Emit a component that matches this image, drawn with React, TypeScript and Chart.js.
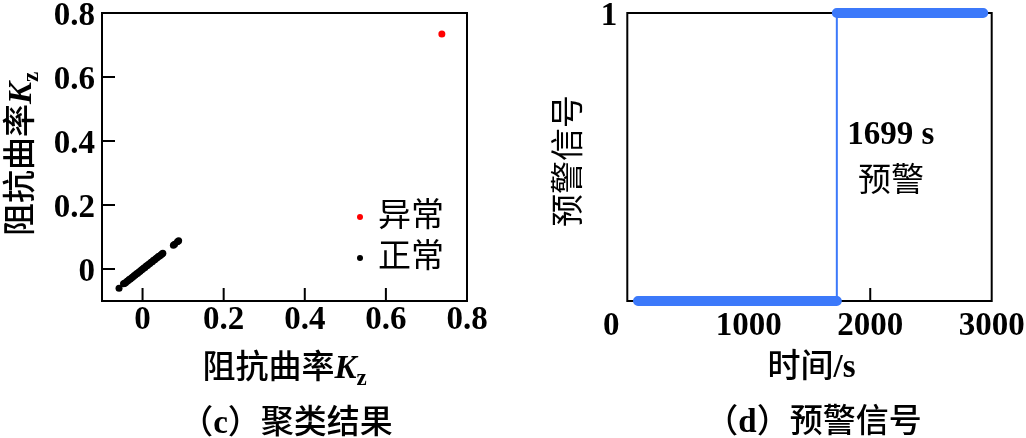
import React, { useEffect, useRef } from "react";
import { Chart, registerables } from "chart.js";

Chart.register(...registerables);

// ---------- data: (c) clustering result ----------
const normalKx = [-0.058, -0.047, -0.045, -0.042, -0.039, -0.036, -0.033, -0.030, -0.027, -0.024, -0.021, -0.018, -0.015, -0.012, -0.009, -0.006, -0.003, 0.000, 0.003, 0.006, 0.009, 0.012, 0.015, 0.018, 0.021, 0.024, 0.027, 0.030, 0.033, 0.036, 0.039, 0.042, 0.045, 0.048, 0.050, 0.076, 0.079, 0.086, 0.089];
const normalKy = [-0.060, -0.046, -0.045, -0.043, -0.039, -0.037, -0.033, -0.031, -0.027, -0.025, -0.021, -0.019, -0.015, -0.013, -0.009, -0.007, -0.003, -0.001, 0.003, 0.005, 0.009, 0.011, 0.015, 0.017, 0.021, 0.023, 0.027, 0.029, 0.033, 0.035, 0.039, 0.041, 0.044, 0.047, 0.049, 0.074, 0.077, 0.085, 0.088];
const abnormalKx = [0.738];
const abnormalKy = [0.734];
const clusterLabels = ["正常", "异常"];
const kzTicks = [0, 0.2, 0.4, 0.6, 0.8];
const kzMin = -0.1;
const kzMax = 0.8;

// ---------- data: (d) warning signal ----------
const warnTime = [88, 1725, 1725, 2930];
const warnSignal = [0, 0, 1, 1];
const timeTicks = [0, 1000, 2000, 3000];
const timeTickMarks = [2000];
const signalTicks = [0, 1];
const timeMin = 0;
const timeMax = 3000;
const noteLines = ["1699 s", "预警"];
const noteTime = 2170;
const noteSignal = [0.576, 0.427];

const SERIF = '"Liberation Serif", "Times New Roman", serif';
const CJK = '"Noto Sans CJK SC", sans-serif';
const BLUE = "rgb(60,121,250)";
const TICK_FONT = { family: SERIF, size: 33, weight: "bold" as const };
const CJK_SIZE = 33;

type Run = { text: string; font: string; dy?: number };

function drawRuns(ctx: CanvasRenderingContext2D, runs: Run[], cx: number, cy: number, angle = 0) {
  ctx.save();
  ctx.translate(cx, cy);
  ctx.rotate(angle);
  ctx.textBaseline = "alphabetic";
  ctx.textAlign = "left";
  ctx.fillStyle = "#000";
  let total = 0;
  const widths = runs.map((r) => {
    ctx.font = r.font;
    const w = ctx.measureText(r.text).width;
    total += w;
    return w;
  });
  let x = -total / 2;
  runs.forEach((r, i) => {
    ctx.font = r.font;
    ctx.fillText(r.text, x, 11 + (r.dy || 0));
    x += widths[i];
  });
  ctx.restore();
}

const framePlugin = {
  id: "frame",
  beforeDatasetsDraw(chart: any, _args: any, opts: any) {
    const { ctx, chartArea: a, scales } = chart;
    ctx.save();
    ctx.strokeStyle = "#000";
    ctx.lineWidth = 2;
    ctx.strokeRect(a.left, a.top, a.right - a.left, a.bottom - a.top);
    ctx.beginPath();
    (opts.xMarks || []).forEach((v: number) => {
      const p = scales.x.getPixelForValue(v);
      ctx.moveTo(p, a.bottom);
      ctx.lineTo(p, a.bottom - 13);
    });
    (opts.yMarks || []).forEach((v: number) => {
      const p = scales.y.getPixelForValue(v);
      ctx.moveTo(a.left, p);
      ctx.lineTo(a.left + 13, p);
    });
    ctx.stroke();
    ctx.restore();
  },
};

function ClusterChart() {
  const ref = useRef<HTMLCanvasElement | null>(null);
  useEffect(() => {
    if (!ref.current) return;
    const titlePlugin = {
      id: "clusterText",
      afterDraw(chart: any) {
        const { ctx, chartArea: a } = chart;
        const cx = (a.left + a.right) / 2;
        const kz: Run[] = [
          { text: "阻抗曲率", font: `500 ${CJK_SIZE}px ${CJK}` },
          { text: "K", font: `italic bold 33px ${SERIF}` },
          { text: "z", font: `bold 23px ${SERIF}`, dy: 7 },
        ];
        drawRuns(ctx, kz, cx, 367);
        drawRuns(ctx, kz, 20, (a.top + a.bottom) / 2 - 3, -Math.PI / 2);
        drawRuns(ctx, [
          { text: "（", font: `500 ${CJK_SIZE}px ${CJK}` },
          { text: "c", font: `bold 33px ${SERIF}` },
          { text: "）", font: `500 ${CJK_SIZE}px ${CJK}` },
          { text: "聚类结果", font: `500 ${CJK_SIZE}px ${CJK}` },
        ], cx + 2, 422);
        // legend
        const items = [...chart.data.datasets].reverse();
        items.forEach((ds: any, i: number) => {
          const dotX = a.right - 107;
          const dotY = a.top + 204 + i * 41;
          ctx.save();
          ctx.beginPath();
          ctx.arc(dotX, dotY, 3, 0, Math.PI * 2);
          ctx.fillStyle = ds.backgroundColor;
          ctx.fill();
          ctx.font = `${CJK_SIZE}px ${CJK}`;
          ctx.textBaseline = "middle";
          ctx.textAlign = "left";
          ctx.fillStyle = "#000";
          ctx.fillText(ds.label, dotX + 18, dotY - 4);
          ctx.restore();
        });
      },
    };
    const chart = new Chart(ref.current, {
      type: "scatter",
      data: {
        datasets: [
          {
            label: clusterLabels[0],
            data: normalKx.map((x, i) => ({ x, y: normalKy[i] })),
            backgroundColor: "#000000",
            borderWidth: 0,
            pointRadius: 3.5,
            clip: false as any,
          },
          {
            label: clusterLabels[1],
            data: abnormalKx.map((x, i) => ({ x, y: abnormalKy[i] })),
            backgroundColor: "#ff0000",
            borderWidth: 0,
            pointRadius: 3.5,
            clip: false as any,
          },
        ],
      },
      options: {
        responsive: false,
        animation: false,
        layout: { padding: { top: 13, right: 46, left: 0, bottom: 0 } },
        plugins: {
          legend: { display: false },
          tooltip: { enabled: false },
          frame: {
            xMarks: kzTicks.filter((v) => v > kzMin && v < kzMax),
            yMarks: kzTicks.filter((v) => v > kzMin && v < kzMax),
          },
        } as any,
        scales: {
          x: {
            type: "linear",
            min: kzMin,
            max: kzMax,
            grid: { display: false, drawTicks: false },
            border: { display: false },
            afterBuildTicks: (s: any) => { s.ticks = kzTicks.map((v) => ({ value: v })); },
            afterFit: (s: any) => { s.height = 137; s.paddingLeft = 0; s.paddingRight = 0; },
            ticks: { font: TICK_FONT, color: "#000", padding: 0, maxRotation: 0, autoSkip: false, callback: (v: any) => String(v) },
          },
          y: {
            type: "linear",
            min: kzMin,
            max: kzMax,
            grid: { display: false, drawTicks: false },
            border: { display: false },
            afterBuildTicks: (s: any) => { s.ticks = kzTicks.map((v) => ({ value: v })); },
            afterFit: (s: any) => { s.width = 102; s.paddingTop = 0; s.paddingBottom = 0; },
            ticks: { font: TICK_FONT, color: "#000", padding: 7, labelOffset: 3, autoSkip: false, callback: (v: any) => String(v) },
          },
        },
      },
      plugins: [framePlugin, titlePlugin],
    });
    return () => chart.destroy();
  }, []);
  return <canvas ref={ref} width={513} height={438} style={{ display: "block" }} />;
}

function SignalChart() {
  const ref = useRef<HTMLCanvasElement | null>(null);
  useEffect(() => {
    if (!ref.current) return;
    const thin = warnTime.map((t, i) => ({ x: t, y: warnSignal[i] }));
    const thick: { x: number; y: number | null }[] = [];
    warnTime.forEach((t, i) => {
      if (i > 0 && warnSignal[i] !== warnSignal[i - 1]) thick.push({ x: t, y: null });
      thick.push({ x: t, y: warnSignal[i] });
    });
    const textPlugin = {
      id: "signalText",
      afterDraw(chart: any) {
        const { ctx, chartArea: a, scales } = chart;
        const cx = (a.left + a.right) / 2;
        ctx.save();
        ctx.font = `bold 33px ${SERIF}`;
        ctx.textAlign = "center";
        ctx.textBaseline = "middle";
        ctx.fillStyle = "#000";
        ctx.fillText(String(timeTicks[0]), scales.x.getPixelForValue(timeTicks[0]) - 16, a.bottom + 6 + 19.8);
        ctx.fillText(noteLines[0], scales.x.getPixelForValue(noteTime), scales.y.getPixelForValue(noteSignal[0]));
        ctx.font = `${CJK_SIZE}px ${CJK}`;
        ctx.fillText(noteLines[1], scales.x.getPixelForValue(noteTime), scales.y.getPixelForValue(noteSignal[1]));
        ctx.restore();
        drawRuns(ctx, [
          { text: "时间", font: `500 ${CJK_SIZE}px ${CJK}` },
          { text: "/s", font: `bold 33px ${SERIF}` },
        ], cx + 2, 366);
        drawRuns(ctx, [{ text: "预警信号", font: `${CJK_SIZE}px ${CJK}` }], 55, 161, -Math.PI / 2);
        drawRuns(ctx, [
          { text: "（", font: `500 ${CJK_SIZE}px ${CJK}` },
          { text: "d", font: `bold 33px ${SERIF}` },
          { text: "）", font: `500 ${CJK_SIZE}px ${CJK}` },
          { text: "预警信号", font: `500 ${CJK_SIZE}px ${CJK}` },
        ], cx + 4, 421);
      },
    };
    const chart = new Chart(ref.current, {
      type: "scatter",
      data: {
        datasets: [
          {
            label: "thin",
            data: thin,
            showLine: true,
            borderColor: BLUE,
            borderWidth: 2,
            pointRadius: 0,
            clip: false as any,
          },
          {
            label: "thick",
            data: thick as any,
            showLine: true,
            spanGaps: false,
            borderColor: BLUE,
            borderWidth: 10,
            borderCapStyle: "round",
            borderJoinStyle: "round",
            pointRadius: 0,
            clip: false as any,
          },
        ],
      },
      options: {
        responsive: false,
        animation: false,
        layout: { padding: { top: 13, right: 34.3, left: 0, bottom: 0 } },
        plugins: {
          legend: { display: false },
          tooltip: { enabled: false },
          frame: { xMarks: timeTickMarks, yMarks: [] },
        } as any,
        scales: {
          x: {
            type: "linear",
            min: timeMin,
            max: timeMax,
            grid: { display: false, drawTicks: false },
            border: { display: false },
            afterBuildTicks: (s: any) => { s.ticks = timeTicks.map((v) => ({ value: v })); },
            afterFit: (s: any) => { s.height = 137; s.paddingLeft = 0; s.paddingRight = 0; },
            ticks: { font: TICK_FONT, color: "#000", padding: 6, maxRotation: 0, autoSkip: false, callback: (v: any) => (v === timeTicks[0] ? "" : String(v)) },
          },
          y: {
            type: "linear",
            min: signalTicks[0],
            max: signalTicks[signalTicks.length - 1],
            grid: { display: false, drawTicks: false },
            border: { display: false },
            afterBuildTicks: (s: any) => { s.ticks = signalTicks.map((v) => ({ value: v })); },
            afterFit: (s: any) => { s.width = 114.3; s.paddingTop = 0; s.paddingBottom = 0; },
            ticks: { font: TICK_FONT, color: "#000", padding: 10, labelOffset: 3, autoSkip: false, callback: (v: any) => (v === signalTicks[0] ? "" : String(v)) },
          },
        },
      },
      plugins: [framePlugin, textPlugin],
    });
    return () => chart.destroy();
  }, []);
  return <canvas ref={ref} width={513} height={438} style={{ display: "block" }} />;
}

export default function App() {
  return (
    <div style={{ position: "absolute", left: 0, top: 0, width: 1026, height: 438, display: "flex", background: "#fff" }}>
      <ClusterChart />
      <SignalChart />
    </div>
  );
}
